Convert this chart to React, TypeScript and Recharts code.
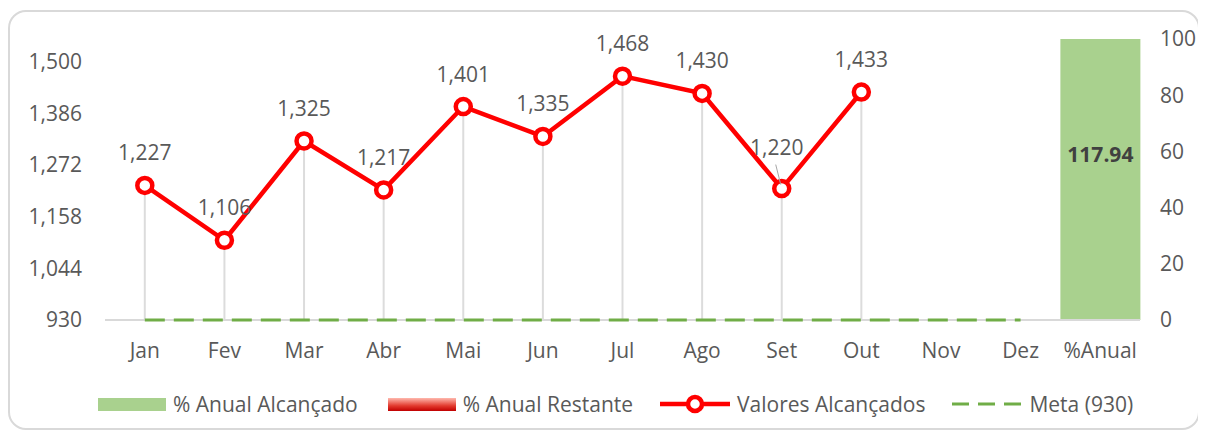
import React from "react";
import {
  Bar,
  ComposedChart,
  LabelList,
  Legend,
  Line,
  ReferenceLine,
  XAxis,
  YAxis,
} from "recharts";

const months = ["Jan", "Fev", "Mar", "Abr", "Mai", "Jun", "Jul", "Ago", "Set", "Out", "Nov", "Dez", "%Anual"];
const valoresAlcancados = [1227, 1106, 1325, 1217, 1401, 1335, 1468, 1430, 1220, 1433, null, null, null];
const metaValores = [930, 930, 930, 930, 930, 930, 930, 930, 930, 930, 930, 930, null];
const anualAlcancado = [null, null, null, null, null, null, null, null, null, null, null, null, 117.94];
const anualRestante = [null, null, null, null, null, null, null, null, null, null, null, null, 0];
const leftTicks = [930, 1044, 1158, 1272, 1386, 1500];
const rightTicks = [0, 20, 40, 60, 80, 100];

const data = months.map((mes, i) => ({
  mes,
  valor: valoresAlcancados[i],
  meta: metaValores[i],
  alcancado: anualAlcancado[i],
  restante: anualRestante[i],
}));

const font = "'Open Sans', sans-serif";
const textColor = "#595959";
const fontSize = 21;
const fmt = (v: number) => v.toLocaleString("en-US");

function ValueLabel(props: any) {
  const { x, y, value, index } = props;
  if (value == null) return null;
  // Set label was pushed up by hand in the original, with a leader line
  const moved = months[index] === "Set";
  const lx = moved ? x - 5 : x;
  const ly = moved ? y - 42 : y - 33;
  return (
    <g>
      {moved && <line x1={x - 6} y1={y - 24} x2={x - 1} y2={y - 4} stroke="#a6a6a6" strokeWidth={1} />}
      <text x={lx} y={ly} textAnchor="middle" dominantBaseline="central" fill={textColor} fontSize={fontSize} fontFamily={font}>
        {fmt(value)}
      </text>
    </g>
  );
}

// the bar is clipped at 100, the label sits at the middle of the real value
function AnualLabel(props: any) {
  const { x, y, width, height, value } = props;
  if (value == null) return null;
  const max = rightTicks[rightTicks.length - 1];
  const bottom = y + height;
  const cy = bottom - (height * value) / max / 2;
  return (
    <text
      x={x + width / 2}
      y={cy}
      textAnchor="middle"
      dominantBaseline="central"
      fill="#404040"
      fontSize={fontSize}
      fontWeight={700}
      fontFamily={font}
    >
      {value.toFixed(2)}
    </text>
  );
}

// zero-height bar: excel still shows its edge just under the axis
function RestanteEdge(props: any) {
  const { x, y, width, height, value } = props;
  if (value == null || x == null) return null;
  return <rect x={x} y={y + height + 1} width={width} height={3} fill="#f5a79b" />;
}

function LegendContent() {
  const item = { display: "flex", alignItems: "center" } as const;
  return (
    <div
      style={{
        display: "flex",
        alignItems: "center",
        height: 48,
        paddingLeft: 88,
        fontFamily: font,
        fontSize,
        color: textColor,
        whiteSpace: "nowrap",
      }}
    >
      <div style={item}>
        <span style={{ display: "inline-block", width: 68, height: 13, background: "#a9d18e", marginRight: 7 }} />
        <span>% Anual Alcançado</span>
      </div>
      <div style={{ ...item, marginLeft: 30 }}>
        <span
          style={{
            display: "inline-block",
            width: 68,
            height: 13,
            background: "linear-gradient(#ffb8ad, #e23a2e 60%, #c00000)",
            marginRight: 7,
          }}
        />
        <span>% Anual Restante</span>
      </div>
      <div style={{ ...item, marginLeft: 27 }}>
        <svg width={70} height={20} style={{ marginRight: 7 }}>
          <line x1={0} y1={10} x2={70} y2={10} stroke="#ff0000" strokeWidth={4.5} />
          <circle cx={35} cy={10} r={7} fill="#fff" stroke="#ff0000" strokeWidth={4.5} />
        </svg>
        <span>Valores Alcançados</span>
      </div>
      <div style={{ ...item, marginLeft: 27 }}>
        <svg width={69} height={20} style={{ marginRight: 8 }}>
          <line x1={0} y1={10} x2={69} y2={10} stroke="#70ad47" strokeWidth={3} strokeDasharray="17 9" />
        </svg>
        <span>Meta (930)</span>
      </div>
    </div>
  );
}

export default function App() {
  return (
    <div
      style={{
        position: "relative",
        marginTop: 2,
        width: 1192,
        height: 420,
        border: "2px solid #d9d9d9",
        borderRadius: 18,
        boxSizing: "border-box",
        background: "#fff",
      }}
    >
      <ComposedChart
        width={1188}
        height={416}
        data={data}
        margin={{ top: 27, right: 0, bottom: 0, left: 0 }}
        barCategoryGap={0}
        barGap={0}
      >
        <XAxis
          dataKey="mes"
          height={60}
          tickLine={false}
          axisLine={false}
          tick={{ fill: textColor, fontSize, fontFamily: font }}
          tickMargin={17}
          interval={0}
        />
        <YAxis
          yAxisId="left"
          width={95}
          domain={[930, 1550]}
          ticks={leftTicks}
          tickFormatter={fmt}
          axisLine={false}
          tickLine={false}
          tickMargin={17}
          tick={{ fill: textColor, fontSize, fontFamily: font }}
        />
        <YAxis
          yAxisId="right"
          orientation="right"
          width={58}
          domain={[0, 100]}
          allowDataOverflow
          ticks={rightTicks}
          axisLine={false}
          tickLine={false}
          tickMargin={14}
          tick={{ fill: textColor, fontSize, fontFamily: font }}
        />
        <ReferenceLine yAxisId="left" y={leftTicks[0]} stroke="#d9d9d9" strokeWidth={2} />
        {data
          .filter((d) => d.valor != null)
          .map((d) => (
            <ReferenceLine
              key={d.mes}
              yAxisId="left"
              segment={[
                { x: d.mes, y: leftTicks[0] },
                { x: d.mes, y: d.valor },
              ]}
              stroke="#dcdcdc"
              strokeWidth={2}
            />
          ))}
        <Bar yAxisId="right" dataKey="restante" stackId="a" fill="#f5a79b" isAnimationActive={false}>
          <LabelList dataKey="restante" content={RestanteEdge} />
        </Bar>
        <Bar yAxisId="right" dataKey="alcancado" stackId="a" fill="#a9d18e" isAnimationActive={false}>
          <LabelList dataKey="alcancado" content={AnualLabel} />
        </Bar>
        <Line
          yAxisId="left"
          dataKey="meta"
          stroke="#70ad47"
          strokeWidth={3}
          strokeDasharray="20 9"
          dot={false}
          isAnimationActive={false}
        />
        <Line
          yAxisId="left"
          dataKey="valor"
          stroke="#ff0000"
          strokeWidth={4.5}
          dot={{ r: 7.5, fill: "#fff", stroke: "#ff0000", strokeWidth: 4.5 }}
          isAnimationActive={false}
        >
          <LabelList dataKey="valor" content={ValueLabel} />
        </Line>
        <Legend verticalAlign="bottom" height={48} content={LegendContent} />
      </ComposedChart>
    </div>
  );
}
